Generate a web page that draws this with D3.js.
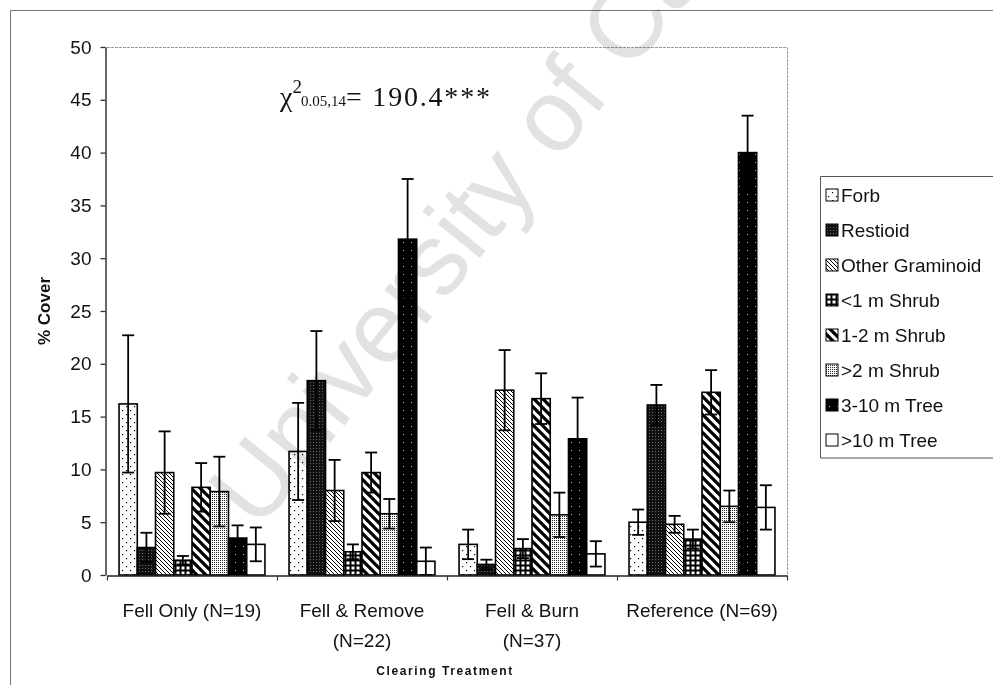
<!DOCTYPE html>
<html>
<head>
<meta charset="utf-8">
<script src="https://cdn.jsdelivr.net/npm/d3@7"></script>
<style>
  body { margin: 0; background: #fff; }
  svg { display: block; }
</style>
</head>
<body>
<svg id="chart" width="993" height="698"></svg>
<script>
// ---- data -------------------------------------------------------------
const categories = ["Fell Only (N=19)", "Fell & Remove (N=22)", "Fell & Burn (N=37)", "Reference (N=69)"];
const categoryLines = [["Fell Only (N=19)"], ["Fell & Remove", "(N=22)"], ["Fell & Burn", "(N=37)"], ["Reference (N=69)"]];
const seriesNames = ["Forb", "Restioid", "Other Graminoid", "<1 m Shrub", "1-2 m Shrub", ">2 m Shrub", "3-10 m Tree", ">10 m Tree"];

// mean % cover per treatment (same order as categories)
const forbMean      = [16.2, 11.7,  2.9,  5.0];
const restioidMean  = [ 2.6, 18.4,  1.0, 16.1];
const graminoidMean = [ 9.7,  8.0, 17.5,  4.8];
const shrubLt1Mean  = [ 1.4,  2.2,  2.5,  3.4];
const shrub12Mean   = [ 8.3,  9.7, 16.7, 17.3];
const shrubGt2Mean  = [ 7.9,  5.8,  5.7,  6.5];
const tree310Mean   = [ 3.5, 31.8, 12.9, 40.0];
const treeGt10Mean  = [ 2.9,  1.3,  2.0,  6.4];

// standard errors
const forbErr      = [6.5, 4.6, 1.4, 1.2];
const restioidErr  = [1.4, 4.7, 0.45, 1.9];
const graminoidErr = [3.9, 2.9, 3.8, 0.8];
const shrubLt1Err  = [0.4, 0.7, 0.9, 0.9];
const shrub12Err   = [2.3, 1.9, 2.4, 2.1];
const shrubGt2Err  = [3.3, 1.4, 2.1, 1.5];
const tree310Err   = [1.2, 5.7, 3.9, 3.5];
const treeGt10Err  = [1.6, 1.3, 1.2, 2.1];

const yTicks = [0, 5, 10, 15, 20, 25, 30, 35, 40, 45, 50];
const statText = { stat: "\u03C7", sup: "2", sub: "0.05,14", rest: "= 190.4***" };

const means = [forbMean, restioidMean, graminoidMean, shrubLt1Mean, shrub12Mean, shrubGt2Mean, tree310Mean, treeGt10Mean];
const errs  = [forbErr, restioidErr, graminoidErr, shrubLt1Err, shrub12Err, shrubGt2Err, tree310Err, treeGt10Err];
const fills = ["url(#p-forb)", "url(#p-restioid)", "url(#p-gram)", "url(#p-shrub1)", "url(#p-shrub12)", "url(#p-shrub2)", "url(#p-tree310)", "#fff"];

const rows = [];
categories.forEach((c, ci) => {
  seriesNames.forEach((s, si) => {
    rows.push({ cat: c, series: s, si, value: means[si][ci], err: errs[si][ci] });
  });
});

// ---- layout -----------------------------------------------------------
const svg = d3.select("#chart");
const plot = { left: 107, right: 787, top: 47, bottom: 575 };
const FONT = "'Liberation Sans', Arial, sans-serif";

// ---- fill patterns ----------------------------------------------------
const defs = svg.append("defs");
function pattern(id, w, h, build) {
  const p = defs.append("pattern").attr("id", id)
    .attr("patternUnits", "userSpaceOnUse").attr("width", w).attr("height", h);
  build(p);
}
pattern("p-forb", 8, 8, p => {
  p.append("rect").attr("width", 8).attr("height", 8).attr("fill", "#fff");
  p.append("rect").attr("x", 2).attr("y", 2).attr("width", 1.2).attr("height", 1.2).attr("fill", "#000");
  p.append("rect").attr("x", 6).attr("y", 6).attr("width", 1.2).attr("height", 1.2).attr("fill", "#000");
});
pattern("p-restioid", 3, 3, p => {
  p.append("rect").attr("width", 3).attr("height", 3).attr("fill", "#111");
  p.append("rect").attr("x", 1).attr("y", 1).attr("width", 1).attr("height", 1).attr("fill", "#6a6a6a");
});
pattern("p-gram", 4, 4, p => {
  p.append("rect").attr("width", 4).attr("height", 4).attr("fill", "#fff");
  p.append("path").attr("d", "M-1,-1L5,5M3,-1L5,1M-1,3L1,5").attr("stroke", "#000").attr("stroke-width", 1);
});
pattern("p-shrub1", 5, 5, p => {
  p.append("rect").attr("width", 5).attr("height", 5).attr("fill", "#000");
  p.append("rect").attr("x", 1.5).attr("y", 1.5).attr("width", 3).attr("height", 3).attr("fill", "#fff");
});
pattern("p-shrub12", 9, 9, p => {
  p.append("rect").attr("width", 9).attr("height", 9).attr("fill", "#fff");
  p.append("path").attr("d", "M-2,-2L11,11M-2,7L2,11M7,-2L11,2").attr("stroke", "#000").attr("stroke-width", 3.3);
});
pattern("p-shrub2", 2, 2, p => {
  p.append("rect").attr("width", 2).attr("height", 2).attr("fill", "#fff");
  p.append("rect").attr("width", 1).attr("height", 1).attr("fill", "#222");
});
pattern("p-tree310", 8, 8, p => {
  p.append("rect").attr("width", 8).attr("height", 8).attr("fill", "#000");
  p.append("rect").attr("x", 3).attr("y", 2).attr("width", 1).attr("height", 1).attr("fill", "#ccc");
});

// ---- chart frame ------------------------------------------------------
svg.append("line").attr("x1", 10.5).attr("x2", 993).attr("y1", 10.5).attr("y2", 10.5)
  .attr("stroke", "#777").attr("stroke-width", 1);
svg.append("line").attr("x1", 10.5).attr("x2", 10.5).attr("y1", 10.5).attr("y2", 685)
  .attr("stroke", "#777").attr("stroke-width", 1);

// plot area border (top and right)
svg.append("path")
  .attr("d", `M${plot.left},${plot.top + 0.5}H${plot.right + 0.5}V${plot.bottom}`)
  .attr("fill", "none").attr("stroke", "#999").attr("stroke-width", 1).attr("stroke-dasharray", "3,1");

// ---- scales -----------------------------------------------------------
const y = d3.scaleLinear().domain([0, 50]).range([plot.bottom, plot.top]);
const x0 = d3.scaleBand().domain(categories).range([plot.left, plot.right]);
const x1 = d3.scaleBand().domain(seriesNames).range([0, x0.bandwidth()]).paddingInner(0).paddingOuter(0.66);
const xEdges = d3.scaleLinear().domain([0, categories.length]).range([plot.left, plot.right]);

// ---- bars -------------------------------------------------------------
const g = svg.append("g");
g.selectAll("rect.bar").data(rows).join("rect")
  .attr("class", "bar")
  .attr("x", d => x0(d.cat) + x1(d.series))
  .attr("y", d => y(d.value))
  .attr("width", x1.bandwidth())
  .attr("height", d => y(0) - y(d.value))
  .attr("fill", d => fills[d.si])
  .attr("stroke", "#000").attr("stroke-width", 1.6);

// error bars
const capW = 12;
const eb = g.selectAll("g.err").data(rows).join("g").attr("class", "err")
  .attr("transform", d => `translate(${x0(d.cat) + x1(d.series) + x1.bandwidth() / 2},0)`);
eb.append("line")
  .attr("y1", d => y(Math.max(0, d.value - d.err))).attr("y2", d => y(d.value + d.err))
  .attr("stroke", "#000").attr("stroke-width", 1.8);
eb.append("line")
  .attr("x1", -capW / 2).attr("x2", capW / 2)
  .attr("y1", d => y(d.value + d.err)).attr("y2", d => y(d.value + d.err))
  .attr("stroke", "#000").attr("stroke-width", 1.8);
eb.append("line")
  .attr("x1", -capW / 2).attr("x2", capW / 2)
  .attr("y1", d => y(Math.max(0, d.value - d.err))).attr("y2", d => y(Math.max(0, d.value - d.err)))
  .attr("stroke", "#000").attr("stroke-width", 1.8);

// ---- axes -------------------------------------------------------------
const yAxis = svg.append("g").attr("transform", `translate(${plot.left - 1.5},0)`)
  .call(d3.axisLeft(y).tickValues(yTicks).tickSize(5).tickPadding(9).tickSizeOuter(0));
yAxis.select(".domain").attr("stroke", "#333").attr("stroke-width", 1.5);
yAxis.selectAll(".tick line").attr("stroke", "#333").attr("stroke-width", 1.3);
yAxis.selectAll("text").attr("font-family", FONT).attr("font-size", 19).attr("fill", "#111");

const xAxis = svg.append("g").attr("transform", `translate(0,${plot.bottom + 0.5})`)
  .call(d3.axisBottom(xEdges).tickValues(d3.range(categories.length + 1)).tickSize(5).tickSizeOuter(0).tickFormat(""));
xAxis.select(".domain").attr("stroke", "#222").attr("stroke-width", 1.6);
xAxis.selectAll(".tick line").attr("stroke", "#333").attr("stroke-width", 1.2);

// category labels
const catLabels = svg.append("g").selectAll("text").data(categories).join("text")
  .attr("x", d => x0(d) + x0.bandwidth() / 2)
  .attr("y", 617)
  .attr("text-anchor", "middle")
  .attr("font-family", FONT).attr("font-size", 19).attr("fill", "#111");
catLabels.each(function (d, i) {
  d3.select(this).selectAll("tspan").data(categoryLines[i]).join("tspan")
    .attr("x", x0(d) + x0.bandwidth() / 2)
    .attr("dy", (t, j) => j === 0 ? 0 : 30)
    .text(t => t);
});

// axis titles
svg.append("text")
  .attr("x", (plot.left + plot.right) / 2 - 2).attr("y", 675)
  .attr("text-anchor", "middle")
  .attr("font-family", FONT).attr("font-size", 12).attr("font-weight", "bold")
  .attr("letter-spacing", 1.6).attr("fill", "#111")
  .text("Clearing Treatment");
svg.append("text")
  .attr("transform", `translate(50,${(plot.top + plot.bottom) / 2}) rotate(-90)`)
  .attr("text-anchor", "middle")
  .attr("font-family", FONT).attr("font-size", 17).attr("font-weight", "bold").attr("fill", "#111")
  .text("% Cover");

// chi-square annotation
const stat = svg.append("text").attr("x", 280).attr("y", 106)
  .attr("font-family", "'Liberation Serif', 'Times New Roman', serif").attr("font-size", 28).attr("fill", "#111");
stat.append("tspan").text(statText.stat);
stat.append("tspan").attr("font-size", 19).attr("dy", -13).text(statText.sup);
stat.append("tspan").attr("font-size", 15).attr("dy", 13).attr("dx", -1).text(statText.sub);
stat.append("tspan").attr("letter-spacing", 1.8).text(statText.rest);

// ---- legend -----------------------------------------------------------
const legend = svg.append("g");
const legTop = 176, legStep = 35;
legend.append("path")
  .attr("d", `M995,${legTop + 0.5}H${820.5}V${legTop + seriesNames.length * legStep + 2}H995`)
  .attr("fill", "#fff").attr("stroke", "#555").attr("stroke-width", 1);
const li = legend.selectAll("g.item").data(seriesNames).join("g").attr("class", "item")
  .attr("transform", (d, i) => `translate(826,${legTop + 18 + i * legStep})`);
li.append("rect").attr("x", 0).attr("y", -5).attr("width", 12).attr("height", 12)
  .attr("fill", (d, i) => fills[i]).attr("stroke", "#000").attr("stroke-width", 1);
li.append("text").attr("x", 15).attr("y", 8)
  .attr("font-family", FONT).attr("font-size", 19).attr("fill", "#111")
  .text(d => d);

// ---- repository watermark ---------------------------------------------
svg.append("text")
  .attr("transform", "translate(258,532) rotate(-51)")
  .attr("font-family", FONT).attr("font-size", 102)
  .attr("fill", "#e2e2e2").style("mix-blend-mode", "multiply")
  .text("University of Cape Town");
</script>
</body>
</html>
